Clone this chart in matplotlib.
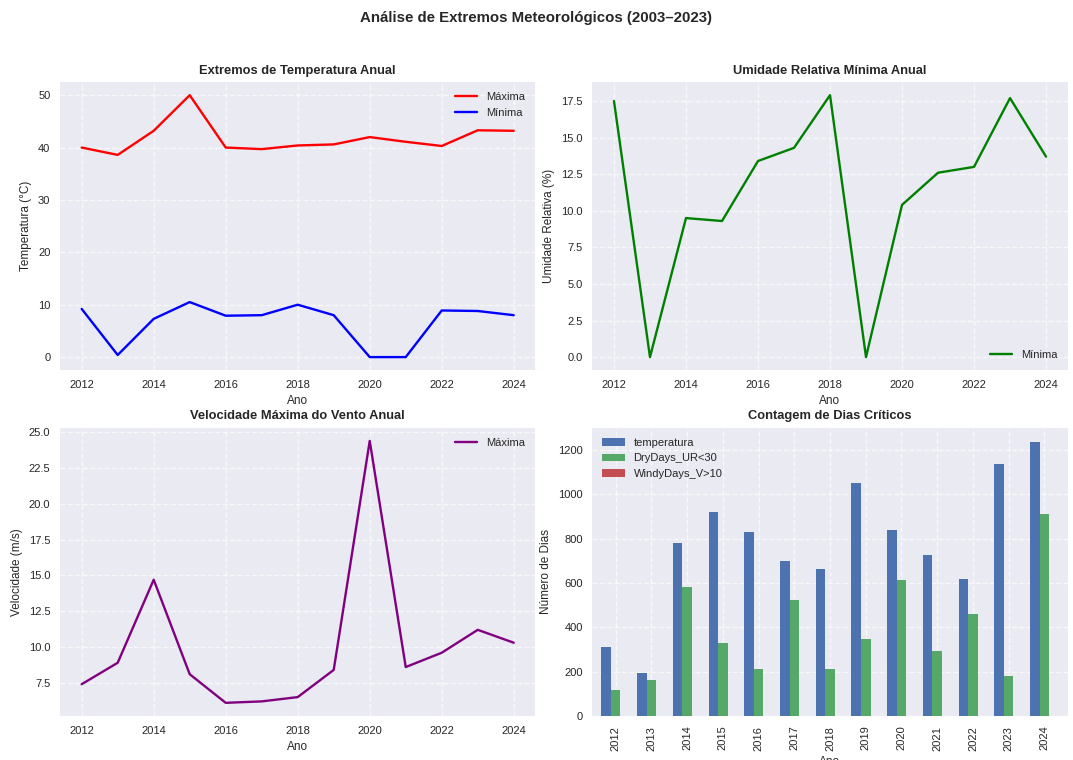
import matplotlib
matplotlib.use("Agg")
import numpy as np
import pandas as pd
import matplotlib.pyplot as plt

# ── Dados ──────────────────────────────────────────────────────────────────────
anos = [2012, 2013, 2014, 2015, 2016, 2017, 2018, 2019, 2020, 2021, 2022, 2023, 2024]

temp_max = [40.0, 38.6, 43.2, 50.0, 40.0, 39.7, 40.4, 40.6, 42.0, 41.1, 40.3, 43.3, 43.2]
temp_min = [9.2, 0.4, 7.3, 10.5, 7.9, 8.0, 10.0, 8.0, 0.0, 0.0, 8.9, 8.8, 8.0]

umidade_min = [17.5, 0.0, 9.5, 9.3, 13.4, 14.3, 17.9, 0.0, 10.4, 12.6, 13.0, 17.7, 13.7]

vento_max = [7.4, 8.9, 14.7, 8.1, 6.1, 6.2, 6.5, 8.4, 24.4, 8.6, 9.6, 11.2, 10.3]

dias_temperatura = [310, 195, 778, 918, 828, 698, 662, 1050, 840, 724, 620, 1138, 1238]
dias_secos = [118, 160, 582, 330, 212, 525, 212, 346, 612, 295, 458, 180, 912]
dias_vento = [0, 0, 0, 0, 0, 0, 0, 0, 0, 0, 0, 0, 0]

# ── Estilo ─────────────────────────────────────────────────────────────────────
plt.style.use("seaborn-v0_8")
plt.rcParams["font.family"] = ["Liberation Sans", "DejaVu Sans"]
plt.rcParams["xtick.labelsize"] = 8
plt.rcParams["ytick.labelsize"] = 8
plt.rcParams["axes.labelsize"] = 8.5
plt.rcParams["legend.fontsize"] = 8


def estilo(ax, titulo, ylabel):
    ax.set_title(titulo, fontsize=9.3, fontweight="bold")
    ax.set_xlabel("Ano")
    ax.set_ylabel(ylabel)
    ax.grid(True, linestyle="--", alpha=0.7)


fig, axes = plt.subplots(2, 2, figsize=(10.73, 7.6), dpi=100)
fig.suptitle("Análise de Extremos Meteorológicos (2003–2023)", fontsize=10.8, fontweight="bold", y=0.985)

# Temperatura
ax = axes[0, 0]
ax.plot(anos, temp_max, color="red", lw=1.7, label="Máxima")
ax.plot(anos, temp_min, color="blue", lw=1.7, label="Mínima")
estilo(ax, "Extremos de Temperatura Anual", "Temperatura (°C)")
ax.legend(loc="upper right")

# Umidade
ax = axes[0, 1]
ax.plot(anos, umidade_min, color="green", lw=1.7, label="Mínima")
estilo(ax, "Umidade Relativa Mínima Anual", "Umidade Relativa (%)")
ax.legend(loc="lower right")

# Vento
ax = axes[1, 0]
ax.plot(anos, vento_max, color="purple", lw=1.7, label="Máxima")
estilo(ax, "Velocidade Máxima do Vento Anual", "Velocidade (m/s)")
ax.legend(loc="upper right")

# Dias críticos
ax = axes[1, 1]
df = pd.DataFrame(
    {"temperatura": dias_temperatura, "DryDays_UR<30": dias_secos, "WindyDays_V>10": dias_vento},
    index=anos,
)
df.plot(kind="bar", ax=ax, width=0.8)
estilo(ax, "Contagem de Dias Críticos", "Número de Dias")
ax.legend(loc="upper left")

fig.subplots_adjust(left=0.056, right=0.995, top=0.892, bottom=0.058, hspace=0.2, wspace=0.12)
plt.savefig("out.png", dpi=100)
